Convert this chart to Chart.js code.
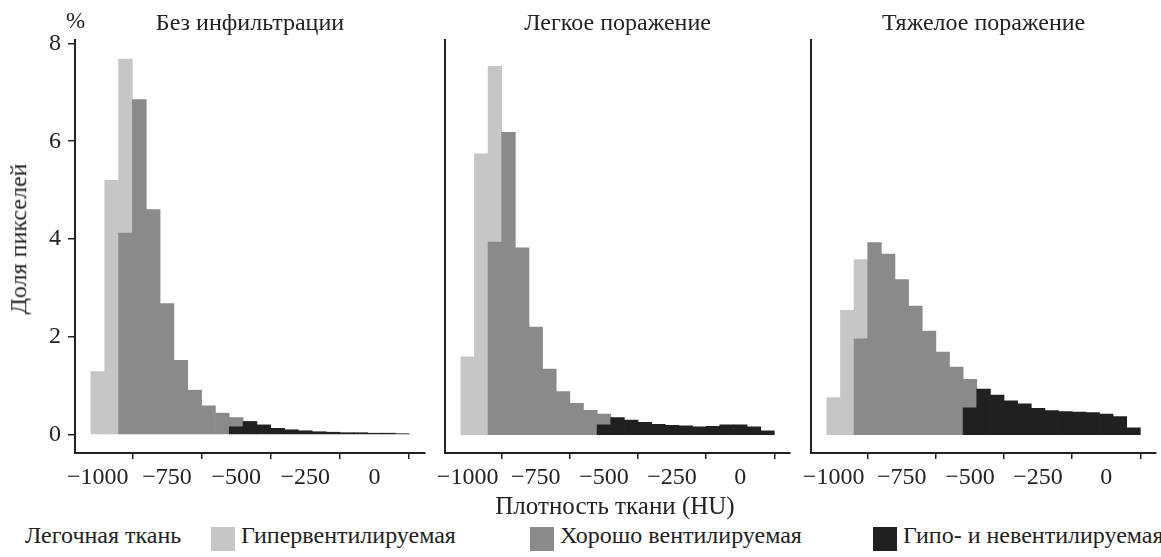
<!DOCTYPE html>
<html lang="ru">
<head>
<meta charset="UTF-8">
<title>Доля пикселей по плотности ткани</title>
<script src="https://cdn.jsdelivr.net/npm/chart.js"></script>
<style>
    body { margin: 0; background: #fff; }
    #wrap { position: relative; width: 1161px; height: 557px; overflow: hidden;
            font-family: "Liberation Serif", "Tinos", "Times New Roman", "DejaVu Serif", serif; color: #222; }
    canvas { position: absolute; top: 0; }
    .txt { position: absolute; white-space: nowrap; line-height: 1.15; }
    #pct { left: 66px; top: 8px; font-size: 23px; }
    #ytitle { left: 19px; top: 239px; font-size: 24px; transform: translate(-50%, -50%) rotate(-90deg); }
    #xtitle { left: 615px; top: 492px; font-size: 25px; transform: translateX(-50%); }
    .sw { position: absolute; width: 24px; height: 24px; top: 527px; }
    .lg { position: absolute; top: 522px; font-size: 24px; line-height: 1.15; white-space: nowrap; }
</style>
</head>
<body>
<div id="wrap">
    <canvas id="c1" width="432" height="500" style="left:0px"></canvas>
    <canvas id="c2" width="364" height="500" style="left:432px"></canvas>
    <canvas id="c3" width="363" height="500" style="left:798px"></canvas>
    <div class="txt" id="pct">%</div>
    <div class="txt" id="ytitle">Доля пикселей</div>
    <div class="txt" id="xtitle">Плотность ткани (HU)</div>
    <div id="legend"></div>
</div>
<script>
// центры бинов (шаг 50 HU)
const binCenters = [-1000, -950, -900, -850, -800, -750, -700, -650, -600, -550, -500, -450,
                    -400, -350, -300, -250, -200, -150, -100, -50, 0, 50, 100];
const xTicks = [-1000, -750, -500, -250, 0];
const yTicks = [0, 2, 4, 6, 8];
const panelTitles = ['Без инфильтрации', 'Легкое поражение', 'Тяжелое поражение'];
const legendTitle = 'Легочная ткань';
const seriesNames = ['Гипервентилируемая', 'Хорошо вентилируемая', 'Гипо- и невентилируемая'];
const seriesColors = ['#c6c6c6', '#8a8a8a', '#202020'];

const N = null;
// Без инфильтрации
const hyper1  = [1.29, 5.2, 3.56, N, N, N, N, N, N, N, N, N, N, N, N, N, N, N, N, N, N, N, N];
const normal1 = [N, N, 4.12, 6.85, 4.6, 2.68, 1.52, 0.91, 0.59, 0.44, 0.19, N, N, N, N, N, N, N, N, N, N, N, N];
const poor1   = [N, N, N, N, N, N, N, N, N, N, 0.16, 0.27, 0.2, 0.13, 0.1, 0.08, 0.06, 0.05, 0.04, 0.04, 0.03, 0.03, 0.02];
// Легкое поражение
const hyper2  = [1.59, 5.74, 3.59, N, N, N, N, N, N, N, N, N, N, N, N, N, N, N, N, N, N, N, N];
const normal2 = [N, N, 3.94, 6.18, 3.82, 2.2, 1.34, 0.88, 0.64, 0.5, 0.22, N, N, N, N, N, N, N, N, N, N, N, N];
const poor2   = [N, N, N, N, N, N, N, N, N, N, 0.2, 0.35, 0.3, 0.25, 0.21, 0.19, 0.18, 0.16, 0.17, 0.2, 0.2, 0.16, 0.08];
// Тяжелое поражение
const hyper3  = [0.76, 2.54, 1.62, N, N, N, N, N, N, N, N, N, N, N, N, N, N, N, N, N, N, N, N];
const normal3 = [N, N, 1.96, 3.93, 3.69, 3.17, 2.63, 2.12, 1.69, 1.38, 0.58, N, N, N, N, N, N, N, N, N, N, N, N];
const poor3   = [N, N, N, N, N, N, N, N, N, N, 0.55, 0.93, 0.81, 0.69, 0.63, 0.54, 0.49, 0.47, 0.46, 0.45, 0.42, 0.37, 0.14];

const panels = [
    {id: 'c1', series: [hyper1, normal1, poor1], yWidth: 75, padRight: 7, showY: true},
    {id: 'c2', series: [hyper2, normal2, poor2], yWidth: 8, padRight: 6, showY: false},
    {id: 'c3', series: [hyper3, normal3, poor3], yWidth: 8, padRight: 5, showY: false}
];

const axisColor = '#222';
const serif = '"Liberation Serif", "Tinos", "Times New Roman", "DejaVu Serif", serif';
const tickFont = {family: serif, size: 24};
const minus = v => v < 0 ? '\u2212' + Math.abs(v) : String(v);

function makeChart(p, i) {
    // снизу вверх: гипо-, норм., гипер-
    const order = [2, 1, 0];
    const datasets = order.map(k => ({
        label: seriesNames[k],
        data: binCenters.map((x, j) => ({x: x, y: p.series[k][j]})),
        backgroundColor: seriesColors[k],
        borderWidth: 0,
        barPercentage: 1,
        categoryPercentage: 1,
        stack: 'all'
    }));

    return new Chart(document.getElementById(p.id), {
        type: 'bar',
        data: {datasets: datasets},
        options: {
            responsive: false,
            animation: false,
            layout: {padding: {left: 0, right: p.padRight, top: 0, bottom: 0}},
            plugins: {
                legend: {display: false},
                tooltip: {enabled: false},
                title: {
                    display: true,
                    text: panelTitles[i],
                    fullSize: false,
                    color: axisColor,
                    font: {family: serif, size: 24, weight: 'normal'},
                    padding: {top: 9, bottom: 2.2}
                }
            },
            scales: {
                x: {
                    type: 'linear',
                    min: -1082.5,
                    max: 182.5,
                    offset: false,
                    afterBuildTicks: s => { s.ticks = xTicks.map(v => ({value: v})); },
                    afterFit: s => { s.height = 47; },
                    ticks: {color: axisColor, font: tickFont, padding: 4, maxRotation: 0,
                            callback: v => minus(v)},
                    grid: {display: true, drawOnChartArea: false, drawTicks: true, tickLength: 6,
                           color: axisColor, lineWidth: 1.5},
                    border: {display: true, color: axisColor, width: 2}
                },
                y: {
                    stacked: true,
                    min: -0.375,
                    max: 8.07,
                    afterBuildTicks: s => { s.ticks = yTicks.map(v => ({value: v})); },
                    afterFit: s => { s.width = p.yWidth; },
                    ticks: {display: p.showY, color: axisColor, font: tickFont, padding: 7},
                    grid: {display: p.showY, drawOnChartArea: false, drawTicks: true, tickLength: 7,
                           color: axisColor, lineWidth: 1.5},
                    border: {display: true, color: axisColor, width: 2}
                }
            }
        }
    });
}

panels.forEach(makeChart);

// легенда внизу
const legend = document.getElementById('legend');
const swatchLeft = [211, 530, 873];
let html = '<div class="lg" style="left:25px">' + legendTitle + '</div>';
seriesNames.forEach((name, k) => {
    html += '<div class="sw" style="left:' + swatchLeft[k] + 'px;background:' + seriesColors[k] + '"></div>';
    html += '<div class="lg" style="left:' + (swatchLeft[k] + 30) + 'px">' + name + '</div>';
});
legend.innerHTML = html;
</script>
</body>
</html>
